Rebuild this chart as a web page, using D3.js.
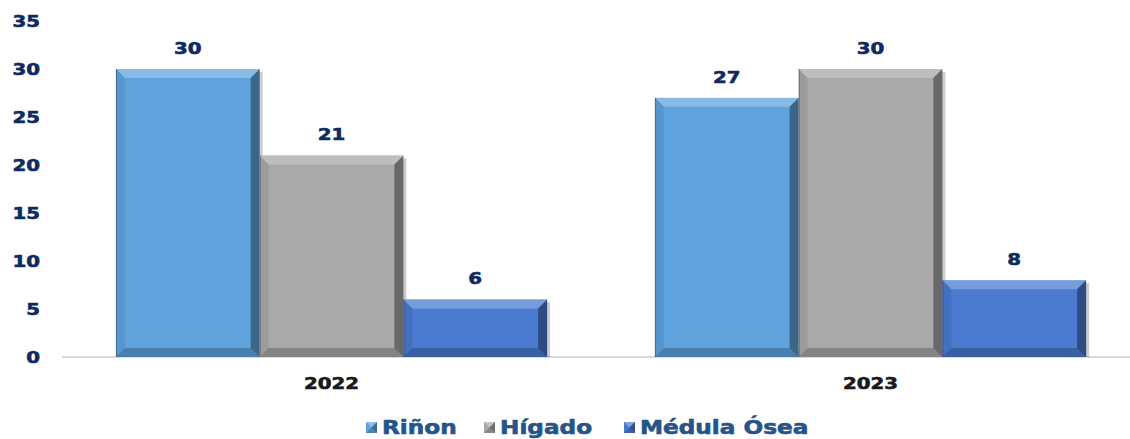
<!DOCTYPE html>
<html><head><meta charset="utf-8">
<script src="https://cdn.jsdelivr.net/npm/d3@7"></script>
<style>body{margin:0;background:#fff;} svg{display:block;}</style>
</head><body>
<script>
const categories = ["2022", "2023"];
const seriesNames = ["Riñon", "Hígado", "Médula Ósea"];
const rinon = [30, 27];
const higado = [21, 30];
const medula = [6, 8];
const yTicks = [0, 5, 10, 15, 20, 25, 30, 35];
const colors = ["#5fa3de", "#a9a9a9", "#4a7bd0"];

const W = 1130, H = 439;
const m = {left: 62, right: -10, top: 21, bottom: 82};
const svg = d3.select("body").append("svg").attr("width", W).attr("height", H);
const font = "'DejaVu Sans', Verdana, sans-serif";
const SX = 1.2;

function wideText(parent, x, y, str, opts) {
  const g = parent.append("g").attr("transform", `translate(${x},${y}) scale(${opts.sx || SX},1)`);
  return g.append("text").attr("x", 0).attr("y", 0).attr("dy", opts.dy || null)
    .attr("text-anchor", opts.anchor || "start")
    .attr("font-family", font).attr("font-weight", "bold").attr("font-size", opts.size)
    .attr("fill", opts.fill).attr("stroke", opts.fill).attr("stroke-width", 0.6)
    .attr("stroke-linejoin", "round").text(str);
}

const y = d3.scaleLinear().domain([0, 35]).range([H - m.bottom, m.top]);
const x0 = d3.scaleBand().domain(categories).range([m.left, W - m.right]).paddingInner(0.2).paddingOuter(0.1);
const x1 = d3.scaleBand().domain(seriesNames).range([0, x0.bandwidth()]).padding(0);

// axis line
svg.append("line").attr("x1", m.left).attr("x2", W).attr("y1", y(0)).attr("y2", y(0))
  .attr("stroke", "#d9d9d9").attr("stroke-width", 2);

// y labels
const yg = svg.append("g");
yTicks.forEach(d => wideText(yg, 40, y(d), d, {anchor: "end", dy: "0.36em", size: 16.5, fill: "#0f2a5e"}));

// x labels
const xg = svg.append("g");
categories.forEach(d => wideText(xg, x0(d) + x0.bandwidth() / 2, y(0) + 32, d, {anchor: "middle", size: 16.5, fill: "#1a1a1a"}));

const data = [];
categories.forEach((c, i) => {
  [rinon, higado, medula].forEach((arr, j) => data.push({cat: c, s: seriesNames[j], v: arr[i], col: colors[j]}));
});

const bev = 9;
const g = svg.append("g");
data.forEach(d => {
  const bx = x0(d.cat) + x1(d.s), bw = x1.bandwidth();
  const by = y(d.v), bh = y(0) - y(d.v);
  const b = Math.min(bev, bh / 2);
  const gg = g.append("g");
  gg.append("rect").attr("x", bx + 3).attr("y", by + 3).attr("width", bw).attr("height", bh - 3)
    .attr("fill", "#000").attr("opacity", 0.2);
  gg.append("rect").attr("x", bx).attr("y", by).attr("width", bw).attr("height", bh).attr("fill", d.col);
  const poly = (pts, fill, op) => gg.append("polygon").attr("points", pts.map(p => p.join(",")).join(" "))
    .attr("fill", fill).attr("opacity", op);
  poly([[bx, by], [bx + bw, by], [bx + bw - b, by + b], [bx + b, by + b]], "#fff", 0.25);
  poly([[bx, by], [bx + b, by + b], [bx + b, by + bh - b], [bx, by + bh]], "#000", 0.08);
  poly([[bx + bw, by], [bx + bw, by + bh], [bx + bw - b, by + bh - b], [bx + bw - b, by + b]], "#000", 0.38);
  poly([[bx, by + bh], [bx + b, by + bh - b], [bx + bw - b, by + bh - b], [bx + bw, by + bh]], "#000", 0.22);
  gg.append("rect").attr("x", bx).attr("y", by).attr("width", 1.2).attr("height", bh).attr("fill", "#000").attr("opacity", 0.25);
  wideText(gg, bx + bw / 2, by - 15, d.v, {anchor: "middle", size: 16.5, fill: "#0f2a5e"});
});

// legend
const legY = 427;
const legX = [366, 484, 624];
seriesNames.forEach((s, i) => {
  const lx = legX[i];
  const lg = svg.append("g");
  lg.append("rect").attr("x", lx).attr("y", legY - 5).attr("width", 11).attr("height", 11).attr("fill", colors[i]);
  lg.append("polygon").attr("points", `${lx},${legY-5} ${lx+11},${legY-5} ${lx+5.5},${legY+0.5}`).attr("fill", "#fff").attr("opacity", 0.3);
  lg.append("polygon").attr("points", `${lx+11},${legY-5} ${lx+11},${legY+6} ${lx+5.5},${legY+0.5}`).attr("fill", "#000").attr("opacity", 0.35);
  lg.append("polygon").attr("points", `${lx},${legY+6} ${lx+11},${legY+6} ${lx+5.5},${legY+0.5}`).attr("fill", "#000").attr("opacity", 0.2);
  wideText(lg, lx + 16, legY, s, {dy: "0.36em", size: 19, fill: "#24548a", sx: 1.22});
});
</script>
</body></html>
